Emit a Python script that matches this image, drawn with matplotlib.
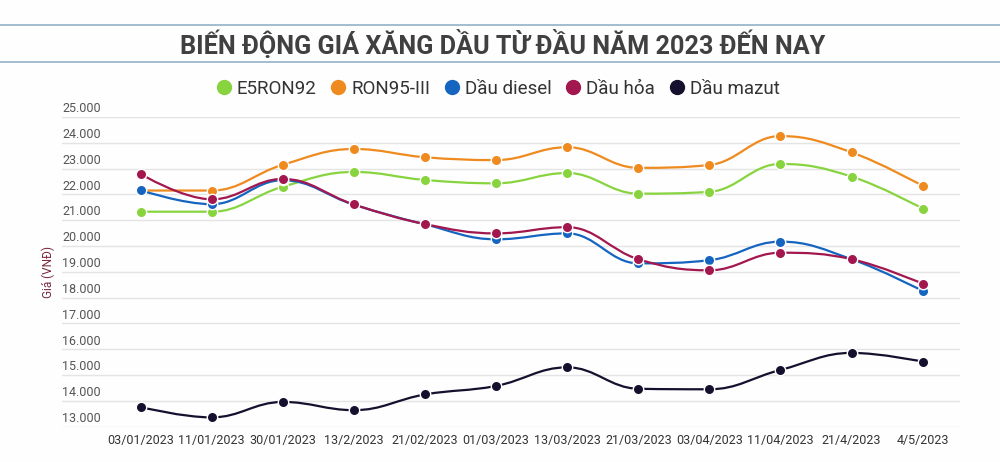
import numpy as np
import matplotlib.pyplot as plt
from matplotlib.path import Path
from matplotlib.patches import PathPatch
from matplotlib.lines import Line2D
from matplotlib import font_manager

dates = ['03/01/2023', '11/01/2023', '30/01/2023', '13/2/2023', '21/02/2023',
         '01/03/2023', '13/03/2023', '21/03/2023', '03/04/2023', '11/04/2023',
         '21/4/2023', '4/5/2023']

e5ron92 = [21330, 21330, 22300, 22870, 22560, 22430, 22830, 22030, 22100, 23180, 22690, 21450]
ron95 = [22150, 22150, 23150, 23760, 23440, 23330, 23830, 23030, 23140, 24260, 23630, 22330]
diesel = [22160, 21620, 22550, 21600, 20840, 20260, 20490, 19330, 19450, 20170, 19490, 18260]
dau_hoa = [22790, 21810, 22600, 21610, 20850, 20490, 20730, 19490, 19060, 19740, 19490, 18540]
mazut = [13760, 13360, 13960, 13640, 14250, 14580, 15300, 14470, 14450, 15200, 15860, 15520]

names = ['E5RON92', 'RON95-III', 'Dầu diesel', 'Dầu hỏa', 'Dầu mazut']
colors = ['#88d43f', '#ef8a1f', '#1565c0', '#a3174f', '#15102e']

installed = {f.name for f in font_manager.fontManager.ttflist}
base_font = 'Roboto' if 'Roboto' in installed else 'DejaVu Sans'
title_font = 'Liberation Sans Narrow' if 'Liberation Sans Narrow' in installed else base_font
plt.rcParams['font.family'] = [base_font, 'DejaVu Sans']


def spline_path(xs, ys, smoothing=1.5):
    # highcharts-like spline: cubic bezier segments through each point
    n = len(xs)
    denom = smoothing + 1
    left = [(xs[i], ys[i]) for i in range(n)]
    right = [(xs[i], ys[i]) for i in range(n)]
    for i in range(1, n - 1):
        x, y = xs[i], ys[i]
        px, py = xs[i - 1], ys[i - 1]
        nx, ny = xs[i + 1], ys[i + 1]
        lcx = (smoothing * x + px) / denom
        lcy = (smoothing * y + py) / denom
        rcx = (smoothing * x + nx) / denom
        rcy = (smoothing * y + ny) / denom
        if rcx != lcx:
            corr = (rcy - lcy) * (rcx - x) / (rcx - lcx) + y - rcy
            lcy += corr
            rcy += corr
        if lcy > py and lcy > y:
            lcy = max(py, y)
            rcy = 2 * y - lcy
        elif lcy < py and lcy < y:
            lcy = min(py, y)
            rcy = 2 * y - lcy
        if rcy > ny and rcy > y:
            rcy = max(ny, y)
            lcy = 2 * y - rcy
        elif rcy < ny and rcy < y:
            rcy = min(ny, y)
            lcy = 2 * y - rcy
        left[i] = (lcx, lcy)
        right[i] = (rcx, rcy)
    verts = [(xs[0], ys[0])]
    codes = [Path.MOVETO]
    for i in range(1, n):
        verts += [right[i - 1], left[i], (xs[i], ys[i])]
        codes += [Path.CURVE4] * 3
    return Path(verts, codes)


fig = plt.figure(figsize=(10, 4.62), dpi=100, facecolor='#fefefe')
ax = fig.add_axes([0.062, 0.0764, 0.898, 0.6704])
ax.set_facecolor('none')

x = np.arange(len(dates))
series = [e5ron92, ron95, diesel, dau_hoa, mazut]
for k, (vals, c) in enumerate(zip(series, colors)):
    p = spline_path(x, vals)
    ax.add_patch(PathPatch(p, facecolor='none', edgecolor=c, lw=1.6, zorder=3 + k))
    ax.plot(x, vals, 'o', color=c, ms=7.5, mec='white', mew=1, zorder=3 + k + 0.5)

ax.set_xlim(-1.107, 11.525)
ax.set_ylim(13000, 25000)
yt = np.arange(13000, 25001, 1000)
ax.set_yticks(yt)
ax.yaxis.grid(True, color='#e4e4e4', lw=1)
ax.tick_params(axis='y', left=False, labelleft=False)
for v in yt:
    ax.text(0, v + 320, f'{v:,}'.replace(',', '.'), transform=ax.get_yaxis_transform(),
            ha='left', va='center', fontsize=9, color='#555555')
ax.set_xticks(x)
ax.set_xticklabels(dates, fontsize=9, color='#333333')
ax.tick_params(axis='x', length=0, pad=5)
for s in ax.spines.values():
    s.set_visible(False)

fig.text(0.048, 0.4113, 'Giá (VNĐ)', rotation=90, ha='center', va='center',
         fontsize=8.5, color='#7a2a3e')

fig.text(0.503, 1 - 45 / 462, 'BIẾN ĐỘNG GIÁ XĂNG DẦU TỪ ĐẦU NĂM 2023 ĐẾN NAY',
         ha='center', va='center', fontsize=18.2, fontweight='bold', color='#404040',
         family=[title_font, base_font])
for yy in (25, 62):
    fig.add_artist(Line2D([0, 1], [1 - yy / 462] * 2, color='#9bb8cc', lw=1.3))

handles = [Line2D([], [], marker='o', ls='none', color=c, ms=10) for c in colors]
fig.legend(handles, names, loc='center', bbox_to_anchor=(0.499, 1 - 89 / 462), ncol=5,
           frameon=False, fontsize=13.5, handlelength=0.6, handletextpad=0.4,
           columnspacing=0.85, labelcolor='#333333')

fig.savefig('out.png', dpi=100, facecolor=fig.get_facecolor())
